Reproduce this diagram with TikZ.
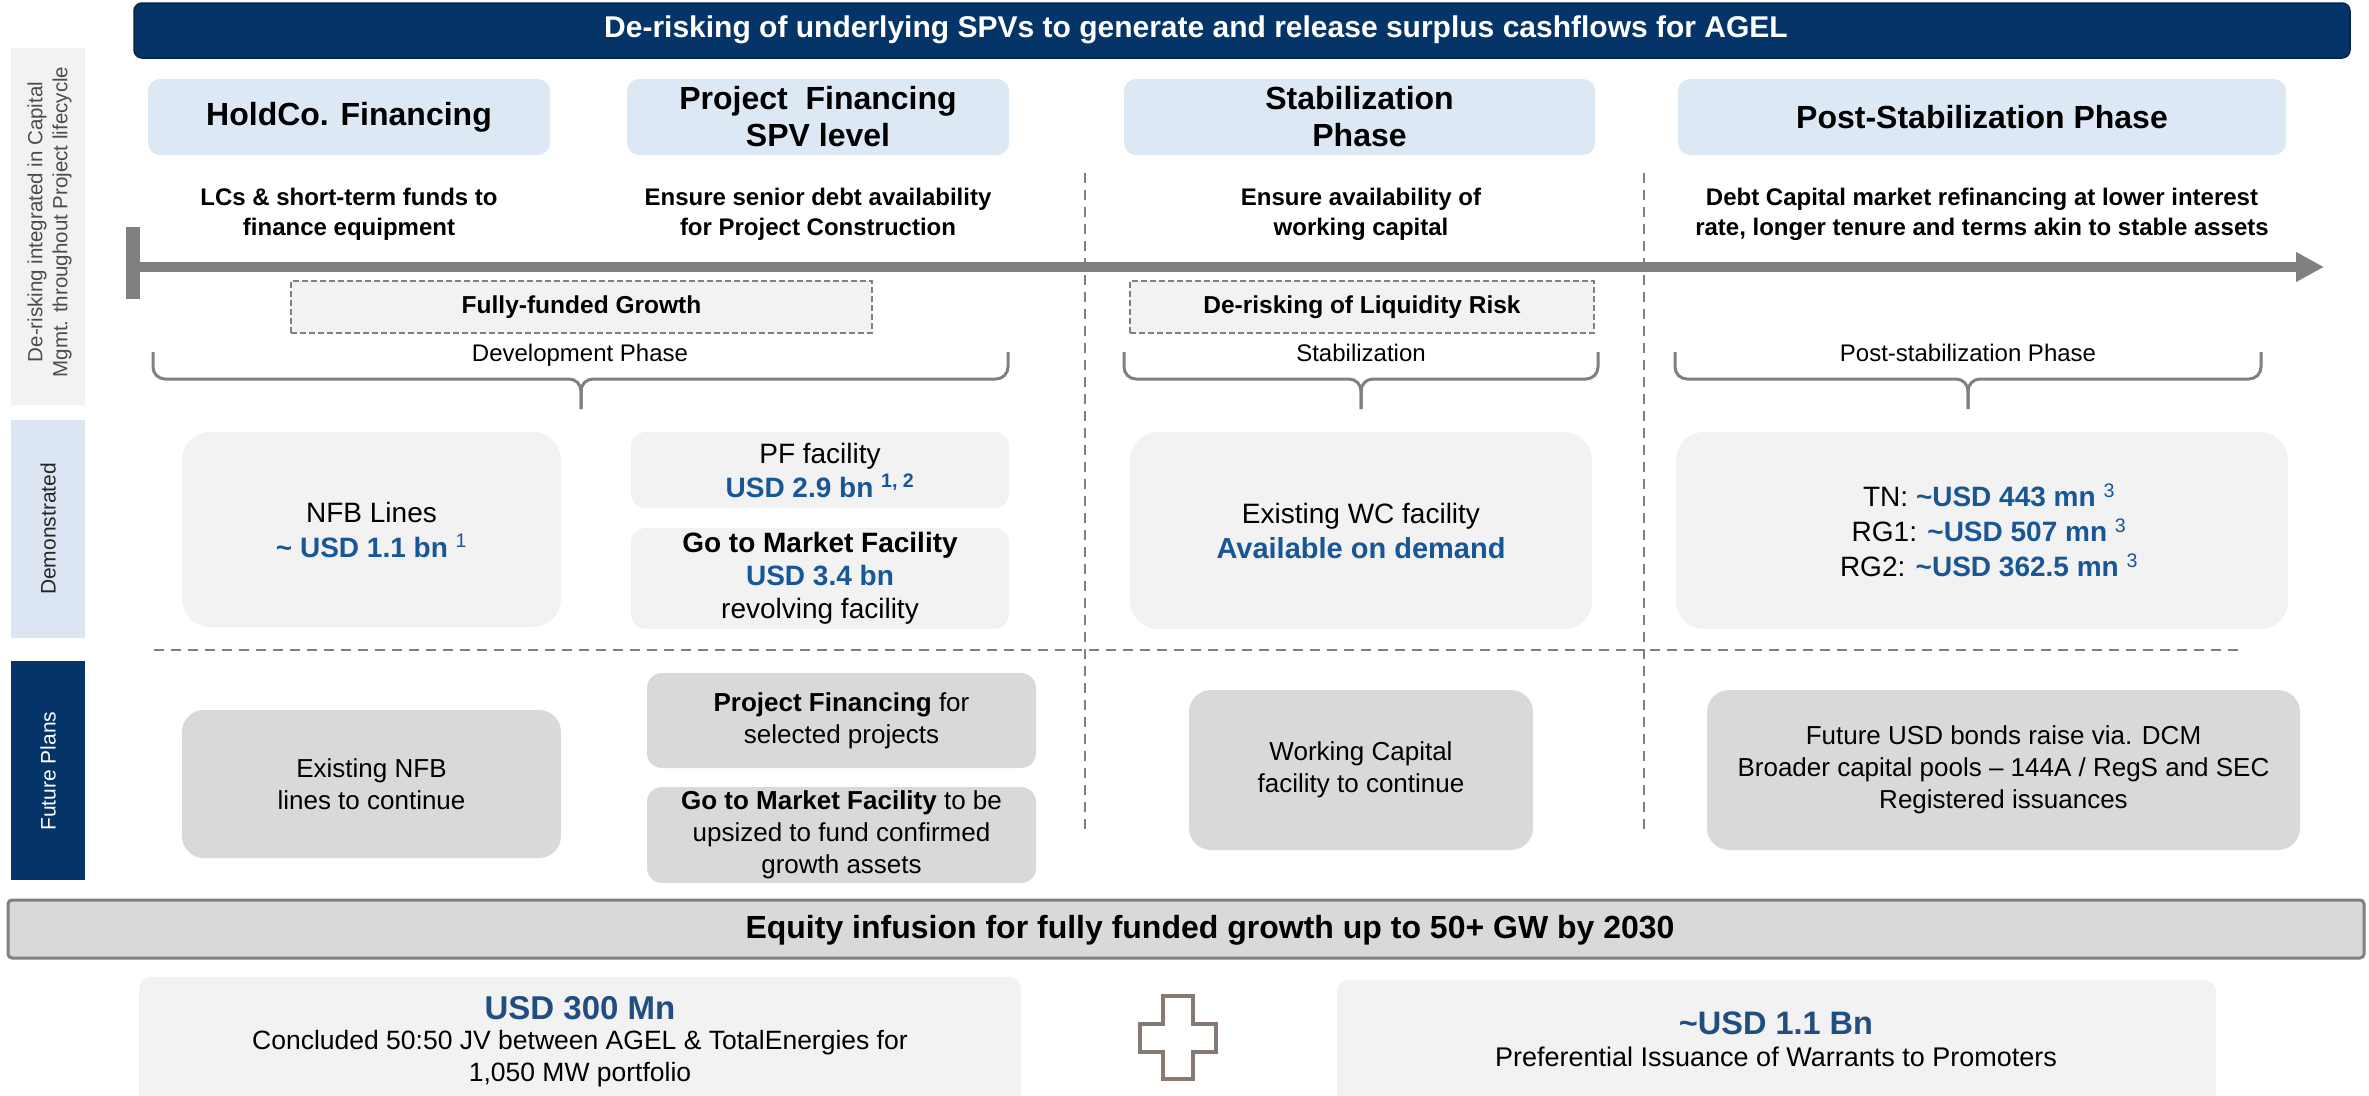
\documentclass[tikz,border=0pt]{standalone}
\usepackage{fontspec}
\setmainfont{Liberation Sans}
\usetikzlibrary{arrows.meta}

\definecolor{navy}{RGB}{4,52,104}
\definecolor{hdrblue}{RGB}{221,232,245}
\definecolor{sideblue}{RGB}{220,230,242}
\definecolor{boxgrey}{RGB}{242,242,242}
\definecolor{plangrey}{RGB}{217,217,217}
\definecolor{linegrey}{RGB}{128,128,128}
\definecolor{usdblue}{RGB}{24,86,150}
\definecolor{eqblue}{RGB}{33,77,128}
\definecolor{crossgrey}{RGB}{135,122,114}

\tikzset{
  hdr/.style={fill=hdrblue, rounded corners=12pt, align=center, font=\fontsize{32}{37}\selectfont\bfseries},
  demo/.style={fill=boxgrey, rounded corners=28pt, align=center, font=\fontsize{28}{35}\selectfont},
  plan/.style={fill=plangrey, rounded corners=22pt, align=center, font=\fontsize{26}{32}\selectfont},
  desc/.style={align=center, font=\fontsize{24}{30}\selectfont\bfseries},
  dashbox/.style={fill=boxgrey, draw=linegrey, line width=2pt, dash pattern=on 6pt off 3pt, font=\fontsize{24.5}{30}\selectfont\bfseries},
  bracelabel/.style={font=\fontsize{24}{30}\selectfont},
  side/.style={rotate=90, align=center, font=\fontsize{21}{25}\selectfont},
  divider/.style={linegrey, line width=2pt, dash pattern=on 10pt off 7pt},
  phasebrace/.style={linegrey, line width=3pt, rounded corners=12pt},
}

\begin{document}
\begin{tikzpicture}[x=1pt, y=-1pt]
\useasboundingbox (0,0) rectangle (2369,1095);

% Title bar
\node[fill=navy, draw=navy!70!black, line width=1.5pt, rounded corners=8pt,
  minimum width=2216pt, minimum height=55pt] (title) at (1242,30.5) {};
\node[font=\fontsize{30}{36}\selectfont\bfseries, text=white] (titletext) at (1196,30)
{De-risking of underlying SPVs to generate and release surplus cashflows for AGEL};

% Side labels
\node[fill=boxgrey, minimum width=74pt, minimum height=357pt] (side_top) at (48,226.5) {};
\node[fill=sideblue, minimum width=74pt, minimum height=218pt] (side_demo) at (48,529) {};
\node[fill=navy, minimum width=74pt, minimum height=219pt] (side_plan) at (48,770.5) {};
\node[side, font=\fontsize{20.5}{25}\selectfont, text=black!70] (side_top_t) at (49.5,222)
{De-risking integrated in Capital\\Mgmt. throughout Project lifecycle};
\node[side, text=black!85] (side_demo_t) at (48,529) {Demonstrated};
\node[side, text=white] (side_plan_t) at (48,771) {Future Plans};

% Dividers
\draw[divider] (1085,173) -- (1085,835);
\draw[divider] (1644,173) -- (1644,835);
\draw[divider] (154,650) -- (2245,650);

% Phase headers
\node[hdr, minimum width=402pt, minimum height=76pt] (holdco) at (349,117) {HoldCo. Financing};
\node[hdr, minimum width=382pt, minimum height=76pt] (projfin) at (818,117) {Project~~Financing\\SPV level};
\node[hdr, minimum width=471pt, minimum height=76pt] (stab) at (1359.5,117) {Stabilization\\Phase};
\node[hdr, minimum width=608pt, minimum height=76pt] (post) at (1982,117) {Post-Stabilization Phase};

\node[desc] (holdco_d) at (349,214) {LCs \& short-term funds to\\finance equipment};
\node[desc] (projfin_d) at (818,214) {Ensure senior debt availability\\for Project Construction};
\node[desc] (stab_d) at (1361,214) {Ensure availability of\\working capital};
\node[desc] (post_d) at (1982,214) {Debt Capital market refinancing at lower interest\\rate, longer tenure and terms akin to stable assets};

% Lifecycle arrow
\coordinate (stop_t) at (133,227);  \coordinate (stop_b) at (133,299);
\coordinate (arrow_l) at (133,267); \coordinate (arrow_r) at (2324,267);
\draw[linegrey, line width=14pt] (stop_t) -- (stop_b);
\draw[linegrey, line width=10pt, -{Triangle[length=28pt,width=28pt]}] (arrow_l) -- (arrow_r);

% Dashed boxes
\node[dashbox, minimum width=581pt, minimum height=52pt] (growth) at (581.5,307) {Fully-funded Growth};
\node[dashbox, minimum width=464pt, minimum height=52pt] (liquid) at (1362,307) {De-risking of Liquidity Risk};

% Braces
\coordinate (dev_l) at (153,352);  \coordinate (dev_r) at (1008,352);
\coordinate (dev_m) at (581,379);  \coordinate (dev_tip) at (581,409);
\coordinate (stb_l) at (1124,352); \coordinate (stb_r) at (1598,352);
\coordinate (stb_m) at (1361,379); \coordinate (stb_tip) at (1361,409);
\coordinate (pst_l) at (1675,352); \coordinate (pst_r) at (2261,352);
\coordinate (pst_m) at (1968,379); \coordinate (pst_tip) at (1968,409);
\draw[phasebrace] (dev_l) |- (dev_m) -- (dev_tip);
\draw[phasebrace] (dev_r) |- (dev_m) -- (dev_tip);
\draw[phasebrace] (stb_l) |- (stb_m) -- (stb_tip);
\draw[phasebrace] (stb_r) |- (stb_m) -- (stb_tip);
\draw[phasebrace] (pst_l) |- (pst_m) -- (pst_tip);
\draw[phasebrace] (pst_r) |- (pst_m) -- (pst_tip);
\node[bracelabel] (dev_t) at (580,355) {Development Phase};
\node[bracelabel] (stb_t) at (1361,353) {Stabilization};
\node[bracelabel] (pst_t) at (1968,353) {Post-stabilization Phase};

% Demonstrated row
\node[demo, minimum width=379pt, minimum height=195pt] (nfb) at (371.5,529.5)
{NFB Lines\\\textcolor{usdblue}{\bfseries\textasciitilde{} USD 1.1 bn \textsuperscript{\mdseries 1}}};
\node[demo, rounded corners=15pt, minimum width=378pt, minimum height=76pt, font=\fontsize{28}{34}\selectfont] (pf) at (820,470)
{PF facility\\\textcolor{usdblue}{\bfseries USD 2.9 bn \textsuperscript{1, 2}}};
\node[demo, rounded corners=15pt, minimum width=378pt, minimum height=101pt, font=\fontsize{28}{33}\selectfont] (gtm) at (820,578.5)
{\bfseries Go to Market Facility\\\textcolor{usdblue}{\bfseries USD 3.4 bn}\\revolving facility};
\node[demo, minimum width=462pt, minimum height=197pt] (wc) at (1361,530.5)
{Existing WC facility\\\textcolor{usdblue}{\bfseries\fontsize{29}{35}\selectfont Available on demand}};
\node[demo, minimum width=612pt, minimum height=197pt] (tn) at (1982,530.5)
{\hspace*{14pt}TN: \textcolor{usdblue}{\bfseries\textasciitilde USD 443 mn \textsuperscript{\mdseries 3}}\\
 \hspace*{14pt}RG1: \textcolor{usdblue}{\bfseries\textasciitilde USD 507 mn \textsuperscript{\mdseries 3}}\\
 \hspace*{14pt}RG2: \textcolor{usdblue}{\bfseries\textasciitilde USD 362.5 mn \textsuperscript{\mdseries 3}}};

% Future plans row
\node[plan, minimum width=379pt, minimum height=148pt] (exnfb) at (371.5,784) {Existing NFB\\lines to continue};
\node[plan, rounded corners=15pt, minimum width=389pt, minimum height=95pt] (pffor) at (841.5,720.5)
{\textbf{Project Financing} for\\selected projects};
\node[plan, rounded corners=15pt, minimum width=389pt, minimum height=96pt] (gtmup) at (841.5,835)
{\textbf{Go to Market Facility} to be\\upsized to fund confirmed\\growth assets};
\node[plan, minimum width=344pt, minimum height=160pt] (wcap) at (1361,770) {Working Capital\\facility to continue};
\node[plan, minimum width=593pt, minimum height=160pt] (bonds) at (2003.5,770)
{Future USD bonds raise via. DCM\\Broader capital pools -- 144A / RegS and SEC\\Registered issuances};

% Equity bar
\node[fill=plangrey, draw=linegrey, line width=3pt, rounded corners=4pt,
  minimum width=2356pt, minimum height=58pt] (equity) at (1186,929) {};
\node[font=\fontsize{32}{38}\selectfont\bfseries] (equity_t) at (1210,930)
{Equity infusion for fully funded growth up to 50+ GW by 2030};

% Equity sources
\node[fill=boxgrey, rounded corners=12pt, minimum width=882pt, minimum height=150pt] (jv) at (580,1052) {};
\node[font=\fontsize{33}{38}\selectfont\bfseries, text=eqblue] (jv_amt) at (580,1008) {USD 300 Mn};
\node[align=center, font=\fontsize{26.5}{32}\selectfont] (jv_t) at (580,1059)
{Concluded 50:50 JV between AGEL \& TotalEnergies for\\1,050 MW portfolio};

\node[fill=boxgrey, rounded corners=12pt, minimum width=879pt, minimum height=145pt] (warr) at (1776.5,1052.5) {};
\node[font=\fontsize{32.5}{38}\selectfont\bfseries, text=eqblue] (warr_amt) at (1776,1023) {\textasciitilde USD 1.1 Bn};
\node[font=\fontsize{27}{32}\selectfont] (warr_t) at (1776,1057) {Preferential Issuance of Warrants to Promoters};

% Plus sign
\draw[crossgrey, fill=white, line width=4pt]
  (1163,996) -- (1193,996) -- (1193,1024) -- (1216,1024) -- (1216,1052) -- (1193,1052)
  -- (1193,1079) -- (1163,1079) -- (1163,1052) -- (1140,1052) -- (1140,1024) -- (1163,1024) -- cycle;

\end{tikzpicture}
\end{document}
